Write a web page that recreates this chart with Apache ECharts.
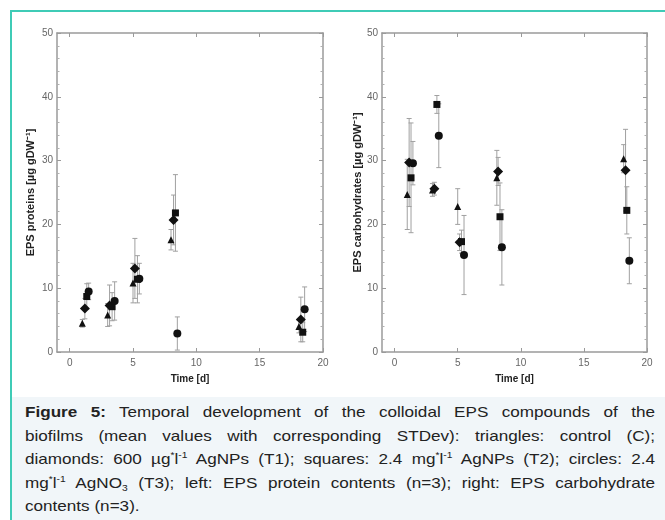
<!DOCTYPE html>
<html><head><meta charset="utf-8">
<script src="https://cdn.jsdelivr.net/npm/echarts@6/dist/echarts.min.js"></script>
<style>
html,body{margin:0;padding:0;background:#fff;}
#wrap{position:relative;width:665px;height:520px;overflow:hidden;background:#fff;}
#cap{position:absolute;left:12px;top:397px;width:653px;height:123px;background:#f1f6f9;}
#chart{position:absolute;left:0;top:0;width:665px;height:397px;}
#frame{position:absolute;left:10px;top:10px;width:655px;height:510px;border-top:2px solid #3fcbb6;border-left:2px solid #3fcbb6;box-sizing:border-box;pointer-events:none;}
.ln{position:absolute;left:13px;width:630px;height:24px;line-height:24px;font-family:"Liberation Sans",Arial,sans-serif;font-size:15px;color:#222;text-align:justify;text-align-last:justify;transform-origin:0 0;}
.last{text-align-last:left;}
.b{font-weight:bold;}
.s{font-size:9px;position:relative;top:-6px;}
.d{font-size:9px;position:relative;top:3px;}
#meas{position:absolute;left:0;top:0;visibility:hidden;white-space:nowrap;font-family:"Liberation Sans",Arial,sans-serif;font-size:15px;}
</style></head>
<body>
<div id="wrap">
  <div id="cap">
    <div class="ln" style="top:3px"><span class="b">Figure 5:</span> Temporal development of the colloidal EPS compounds of the</div>
    <div class="ln" style="top:26.5px">biofilms (mean values with corresponding STDev): triangles: control (C);</div>
    <div class="ln" id="l3" style="top:50px">diamonds: 600 µg<span class="s">*</span>l<span class="s">-1</span> AgNPs (T1); squares: 2.4 mg<span class="s">*</span>l<span class="s">-1</span> AgNPs (T2); circles: 2.4</div>
    <div class="ln" style="top:73.5px">mg<span class="s">*</span>l<span class="s">-1</span> AgNO<span class="d">3</span> (T3); left: EPS protein contents (n=3); right: EPS carbohydrate</div>
    <div class="ln last" style="top:97px">contents (n=3).</div>
  </div>
  <div id="chart"></div>
  <div id="frame"></div>
  <span id="meas"></span>
</div>
<script>
// tick values
const xTicks = [0, 5, 10, 15, 20];
// [time (d), mean, STDev]
const proteinC  = [[1.0,4.5,0.6],[3.0,5.8,1.8],[5.0,10.8,3.1],[8.0,17.6,1.6],[18.1,4.0,1.0]];
const proteinT1 = [[1.2,6.8,1.6],[3.15,7.3,3.2],[5.15,13.1,4.7],[8.2,20.7,3.9],[18.25,5.1,3.5]];
const proteinT2 = [[1.35,8.7,2.0],[3.35,7.1,2.2],[5.35,11.4,3.7],[8.35,21.8,6.0],[18.4,3.1,1.5]];
const proteinT3 = [[1.5,9.5,1.3],[3.55,8.0,3.0],[5.5,11.5,2.4],[8.5,2.9,2.6],[18.55,6.7,3.5]];
const carbC  = [[1.0,24.7,5.5],[3.0,25.4,1.0],[5.0,22.8,2.8],[8.1,27.3,4.3],[18.15,30.3,2.2]];
const carbT1 = [[1.15,29.7,6.9],[3.15,25.6,1.0],[5.15,17.2,1.3],[8.2,28.3,2.2],[18.3,28.5,6.4]];
const carbT2 = [[1.3,27.3,8.6],[3.35,38.8,1.4],[5.3,17.3,1.8],[8.35,21.2,5.3],[18.4,22.2,3.7]];
const carbT3 = [[1.45,29.6,3.4],[3.5,33.9,5.0],[5.5,15.2,6.2],[8.5,16.4,5.9],[18.6,14.3,3.6]];

const yNames = ['EPS proteins [µg gDW⁻¹]', 'EPS carbohydrates [µg gDW⁻¹]'];
const xName = 'Time [d]';

// caption: scale lines horizontally to match the reference glyph widths
(function(){
  const m = document.getElementById('meas');
  m.innerHTML = document.getElementById('l3').innerHTML;
  const w = m.getBoundingClientRect().width;
  const s = Math.min(1.3, Math.max(0.8, 580 / w));
  document.querySelectorAll('.ln').forEach(el => {
    el.style.width = (630 / s) + 'px';
    el.style.transform = 'scaleX(' + s + ')';
  });
})();

const axisCol = '#9a9a9a';
function xAx(g, pos, lab){
  return {type:'value', gridIndex:g, position:pos, min:-1, max:20,
    name: lab ? xName : '', nameLocation:'middle', nameGap:22,
    nameTextStyle:{fontWeight:'bold', fontSize:10, color:'#222', fontFamily:'Liberation Sans'},
    axisLine:{show:true, onZero:false, lineStyle:{color:axisCol, width:1.5}},
    axisTick:{show:true, inside:true, length:4, customValues:xTicks, lineStyle:{color:axisCol}},
    axisLabel:{show:lab, customValues:xTicks, color:'#666', fontSize:10, margin:6, fontFamily:'Liberation Sans'},
    splitLine:{show:false}};
}
function yAx(g, pos, lab, gap){
  return {type:'value', gridIndex:g, position:pos, min:0, max:50, interval:10,
    name: lab ? yNames[g] : '', nameLocation:'middle', nameGap:gap,
    nameTextStyle:{fontWeight:'bold', fontSize:11, color:'#222', fontFamily:'Liberation Sans'},
    axisLine:{show:true, onZero:false, lineStyle:{color:axisCol, width:1.5}},
    axisTick:{show:true, inside:true, length:4, lineStyle:{color:axisCol}},
    minorTick:{show:true, splitNumber:5, length:2.5, lineStyle:{color:'#b0b0b0'}},
    axisLabel:{show:lab, color:'#666', fontSize:10, margin:4, fontFamily:'Liberation Sans'},
    splitLine:{show:false}, minorSplitLine:{show:false}};
}
function errItem(params, api){
  const x = api.value(0), v = api.value(1), s = api.value(2);
  const hi = api.coord([x, v + s]);
  const lo = api.coord([x, Math.max(0, v - s)]);
  const w = 2.5;
  const st = {stroke:'#a0a0a0', lineWidth:1};
  return {type:'group', children:[
    {type:'line', shape:{x1:hi[0], y1:hi[1], x2:lo[0], y2:lo[1]}, style:st},
    {type:'line', shape:{x1:hi[0]-w, y1:hi[1], x2:hi[0]+w, y2:hi[1]}, style:st},
    {type:'line', shape:{x1:lo[0]-w, y1:lo[1], x2:lo[0]+w, y2:lo[1]}, style:st}
  ]};
}
const groups = [
  [proteinC, proteinT1, proteinT2, proteinT3],
  [carbC, carbT1, carbT2, carbT3]
];
const symbols = ['triangle', 'diamond', 'rect', 'circle'];
const sizes = [7, 10, 7, 8];
const series = [];
groups.forEach((grp, g) => {
  grp.forEach((arr, k) => {
    series.push({type:'custom', xAxisIndex:g*2, yAxisIndex:g*2, renderItem:errItem,
      data: arr, encode:{x:0, y:1}, z:1, silent:true, clip:false});
  });
});
groups.forEach((grp, g) => {
  grp.forEach((arr, k) => {
    series.push({type:'scatter', xAxisIndex:g*2, yAxisIndex:g*2,
      symbol:symbols[k], symbolSize:sizes[k], itemStyle:{color:'#111', opacity:1},
      data: arr.map(d => [d[0], d[1]]), z:3, silent:true});
  });
});

const chart = echarts.init(document.getElementById('chart'), null, {renderer:'canvas'});
chart.setOption({
  animation:false,
  grid:[{left:57, top:33, width:266, height:319}, {left:382, top:33, width:265, height:319}],
  xAxis:[xAx(0,'bottom',true), xAx(0,'top',false), xAx(1,'bottom',true), xAx(1,'top',false)],
  yAxis:[yAx(0,'left',true,21), yAx(0,'right',false,0), yAx(1,'left',true,19), yAx(1,'right',false,0)],
  series: series
});
</script>
</body></html>
